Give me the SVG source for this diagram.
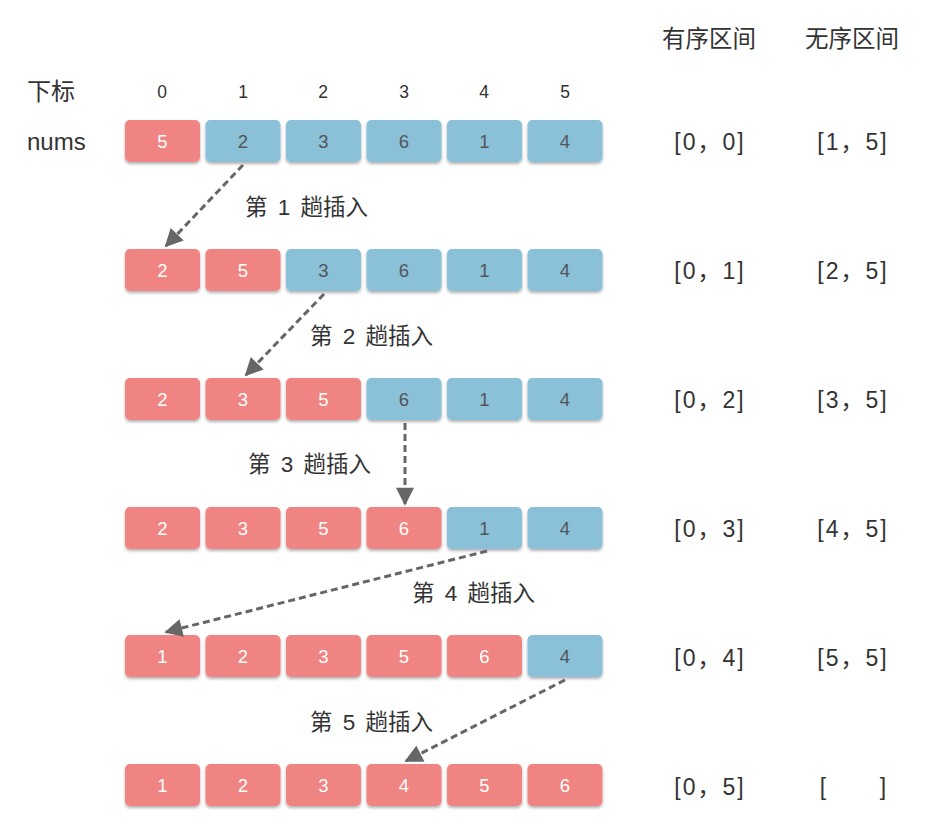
<svg xmlns="http://www.w3.org/2000/svg" width="928" height="827" viewBox="0 0 928 827">
<defs>
<filter id="sh" x="-10%" y="-20%" width="120%" height="150%">
<feDropShadow dx="0" dy="2" stdDeviation="1.5" flood-color="#000" flood-opacity="0.3"/>
</filter>
<marker id="ah" viewBox="0 0 10 10" refX="9" refY="5" markerWidth="6.5" markerHeight="6" markerUnits="strokeWidth" orient="auto">
<path d="M0,0 L10,5 L0,10 z" fill="#666"/>
</marker>
<style>
text{font-family:"Liberation Sans","Noto Sans CJK SC",sans-serif;}
.r{fill:#F08482;filter:url(#sh);}
.b{fill:#8AC0D8;filter:url(#sh);}
.tr{fill:#fff;font-size:18.5px;text-anchor:middle;}
.tb{fill:#555;font-size:18.5px;text-anchor:middle;}
.idx{fill:#333;font-size:17.5px;text-anchor:middle;}
.lab{fill:#333;font-size:24px;}
.hd{fill:#333;font-size:23.5px;text-anchor:middle;}
.rng{fill:#333;font-size:23px;text-anchor:middle;letter-spacing:2px;}
.step{fill:#333;font-size:22.5px;word-spacing:4px;}
.c{stroke:#666;stroke-width:3;stroke-dasharray:7 4;fill:none;marker-end:url(#ah);}
</style>
</defs>
<rect width="928" height="827" fill="#fff"/>
<g id="headers">
<text class="lab" x="27" y="100">下标</text>
<text class="lab" x="27" y="150">nums</text>
<text class="idx" x="162" y="98">0</text>
<text class="idx" x="243" y="98">1</text>
<text class="idx" x="323" y="98">2</text>
<text class="idx" x="404" y="98">3</text>
<text class="idx" x="484" y="98">4</text>
<text class="idx" x="565" y="98">5</text>
<text class="hd" x="709" y="47">有序区间</text>
<text class="hd" x="852" y="47">无序区间</text>
</g>
<g id="row1">
<rect class="r" x="125" y="120" width="75" height="42" rx="5"/><text class="tr" x="162.5" y="147.5">5</text>
<rect class="b" x="205.5" y="120" width="75" height="42" rx="5"/><text class="tb" x="243" y="147.5">2</text>
<rect class="b" x="286" y="120" width="75" height="42" rx="5"/><text class="tb" x="323.5" y="147.5">3</text>
<rect class="b" x="366.5" y="120" width="75" height="42" rx="5"/><text class="tb" x="404" y="147.5">6</text>
<rect class="b" x="447" y="120" width="75" height="42" rx="5"/><text class="tb" x="484.5" y="147.5">1</text>
<rect class="b" x="527.5" y="120" width="75" height="42" rx="5"/><text class="tb" x="565" y="147.5">4</text>
<text class="rng" x="710" y="150">[0，0]</text>
<text class="rng" x="853" y="150">[1，5]</text>
</g>
<g id="row2">
<rect class="r" x="125" y="249" width="75" height="42" rx="5"/><text class="tr" x="162.5" y="276.5">2</text>
<rect class="r" x="205.5" y="249" width="75" height="42" rx="5"/><text class="tr" x="243" y="276.5">5</text>
<rect class="b" x="286" y="249" width="75" height="42" rx="5"/><text class="tb" x="323.5" y="276.5">3</text>
<rect class="b" x="366.5" y="249" width="75" height="42" rx="5"/><text class="tb" x="404" y="276.5">6</text>
<rect class="b" x="447" y="249" width="75" height="42" rx="5"/><text class="tb" x="484.5" y="276.5">1</text>
<rect class="b" x="527.5" y="249" width="75" height="42" rx="5"/><text class="tb" x="565" y="276.5">4</text>
<text class="rng" x="710" y="279">[0，1]</text>
<text class="rng" x="853" y="279">[2，5]</text>
</g>
<g id="row3">
<rect class="r" x="125" y="378" width="75" height="42" rx="5"/><text class="tr" x="162.5" y="405.5">2</text>
<rect class="r" x="205.5" y="378" width="75" height="42" rx="5"/><text class="tr" x="243" y="405.5">3</text>
<rect class="r" x="286" y="378" width="75" height="42" rx="5"/><text class="tr" x="323.5" y="405.5">5</text>
<rect class="b" x="366.5" y="378" width="75" height="42" rx="5"/><text class="tb" x="404" y="405.5">6</text>
<rect class="b" x="447" y="378" width="75" height="42" rx="5"/><text class="tb" x="484.5" y="405.5">1</text>
<rect class="b" x="527.5" y="378" width="75" height="42" rx="5"/><text class="tb" x="565" y="405.5">4</text>
<text class="rng" x="710" y="408">[0，2]</text>
<text class="rng" x="853" y="408">[3，5]</text>
</g>
<g id="row4">
<rect class="r" x="125" y="507" width="75" height="42" rx="5"/><text class="tr" x="162.5" y="534.5">2</text>
<rect class="r" x="205.5" y="507" width="75" height="42" rx="5"/><text class="tr" x="243" y="534.5">3</text>
<rect class="r" x="286" y="507" width="75" height="42" rx="5"/><text class="tr" x="323.5" y="534.5">5</text>
<rect class="r" x="366.5" y="507" width="75" height="42" rx="5"/><text class="tr" x="404" y="534.5">6</text>
<rect class="b" x="447" y="507" width="75" height="42" rx="5"/><text class="tb" x="484.5" y="534.5">1</text>
<rect class="b" x="527.5" y="507" width="75" height="42" rx="5"/><text class="tb" x="565" y="534.5">4</text>
<text class="rng" x="710" y="537">[0，3]</text>
<text class="rng" x="853" y="537">[4，5]</text>
</g>
<g id="row5">
<rect class="r" x="125" y="635" width="75" height="42" rx="5"/><text class="tr" x="162.5" y="662.5">1</text>
<rect class="r" x="205.5" y="635" width="75" height="42" rx="5"/><text class="tr" x="243" y="662.5">2</text>
<rect class="r" x="286" y="635" width="75" height="42" rx="5"/><text class="tr" x="323.5" y="662.5">3</text>
<rect class="r" x="366.5" y="635" width="75" height="42" rx="5"/><text class="tr" x="404" y="662.5">5</text>
<rect class="r" x="447" y="635" width="75" height="42" rx="5"/><text class="tr" x="484.5" y="662.5">6</text>
<rect class="b" x="527.5" y="635" width="75" height="42" rx="5"/><text class="tb" x="565" y="662.5">4</text>
<text class="rng" x="710" y="666">[0，4]</text>
<text class="rng" x="853" y="666">[5，5]</text>
</g>
<g id="row6">
<rect class="r" x="125" y="764" width="75" height="42" rx="5"/><text class="tr" x="162.5" y="791.5">1</text>
<rect class="r" x="205.5" y="764" width="75" height="42" rx="5"/><text class="tr" x="243" y="791.5">2</text>
<rect class="r" x="286" y="764" width="75" height="42" rx="5"/><text class="tr" x="323.5" y="791.5">3</text>
<rect class="r" x="366.5" y="764" width="75" height="42" rx="5"/><text class="tr" x="404" y="791.5">4</text>
<rect class="r" x="447" y="764" width="75" height="42" rx="5"/><text class="tr" x="484.5" y="791.5">5</text>
<rect class="r" x="527.5" y="764" width="75" height="42" rx="5"/><text class="tr" x="565" y="791.5">6</text>
<text class="rng" x="710" y="795">[0，5]</text>
<text class="rng" x="824" y="795">[</text>
<text class="rng" x="884" y="795">]</text>
</g>
<g id="connectors">
<line class="c" x1="243" y1="165" x2="166" y2="246"/>
<line class="c" x1="324" y1="294" x2="246" y2="375"/>
<line class="c" x1="405" y1="423" x2="405" y2="504"/>
<line class="c" x1="487" y1="551" x2="166" y2="632"/>
<line class="c" x1="565" y1="680" x2="406" y2="761"/>
</g>
<g id="step-labels">
<text class="step" x="245" y="215">第 1 趟插入</text>
<text class="step" x="310" y="344">第 2 趟插入</text>
<text class="step" x="248" y="472">第 3 趟插入</text>
<text class="step" x="412" y="601">第 4 趟插入</text>
<text class="step" x="310" y="730">第 5 趟插入</text>
</g>
</svg>
